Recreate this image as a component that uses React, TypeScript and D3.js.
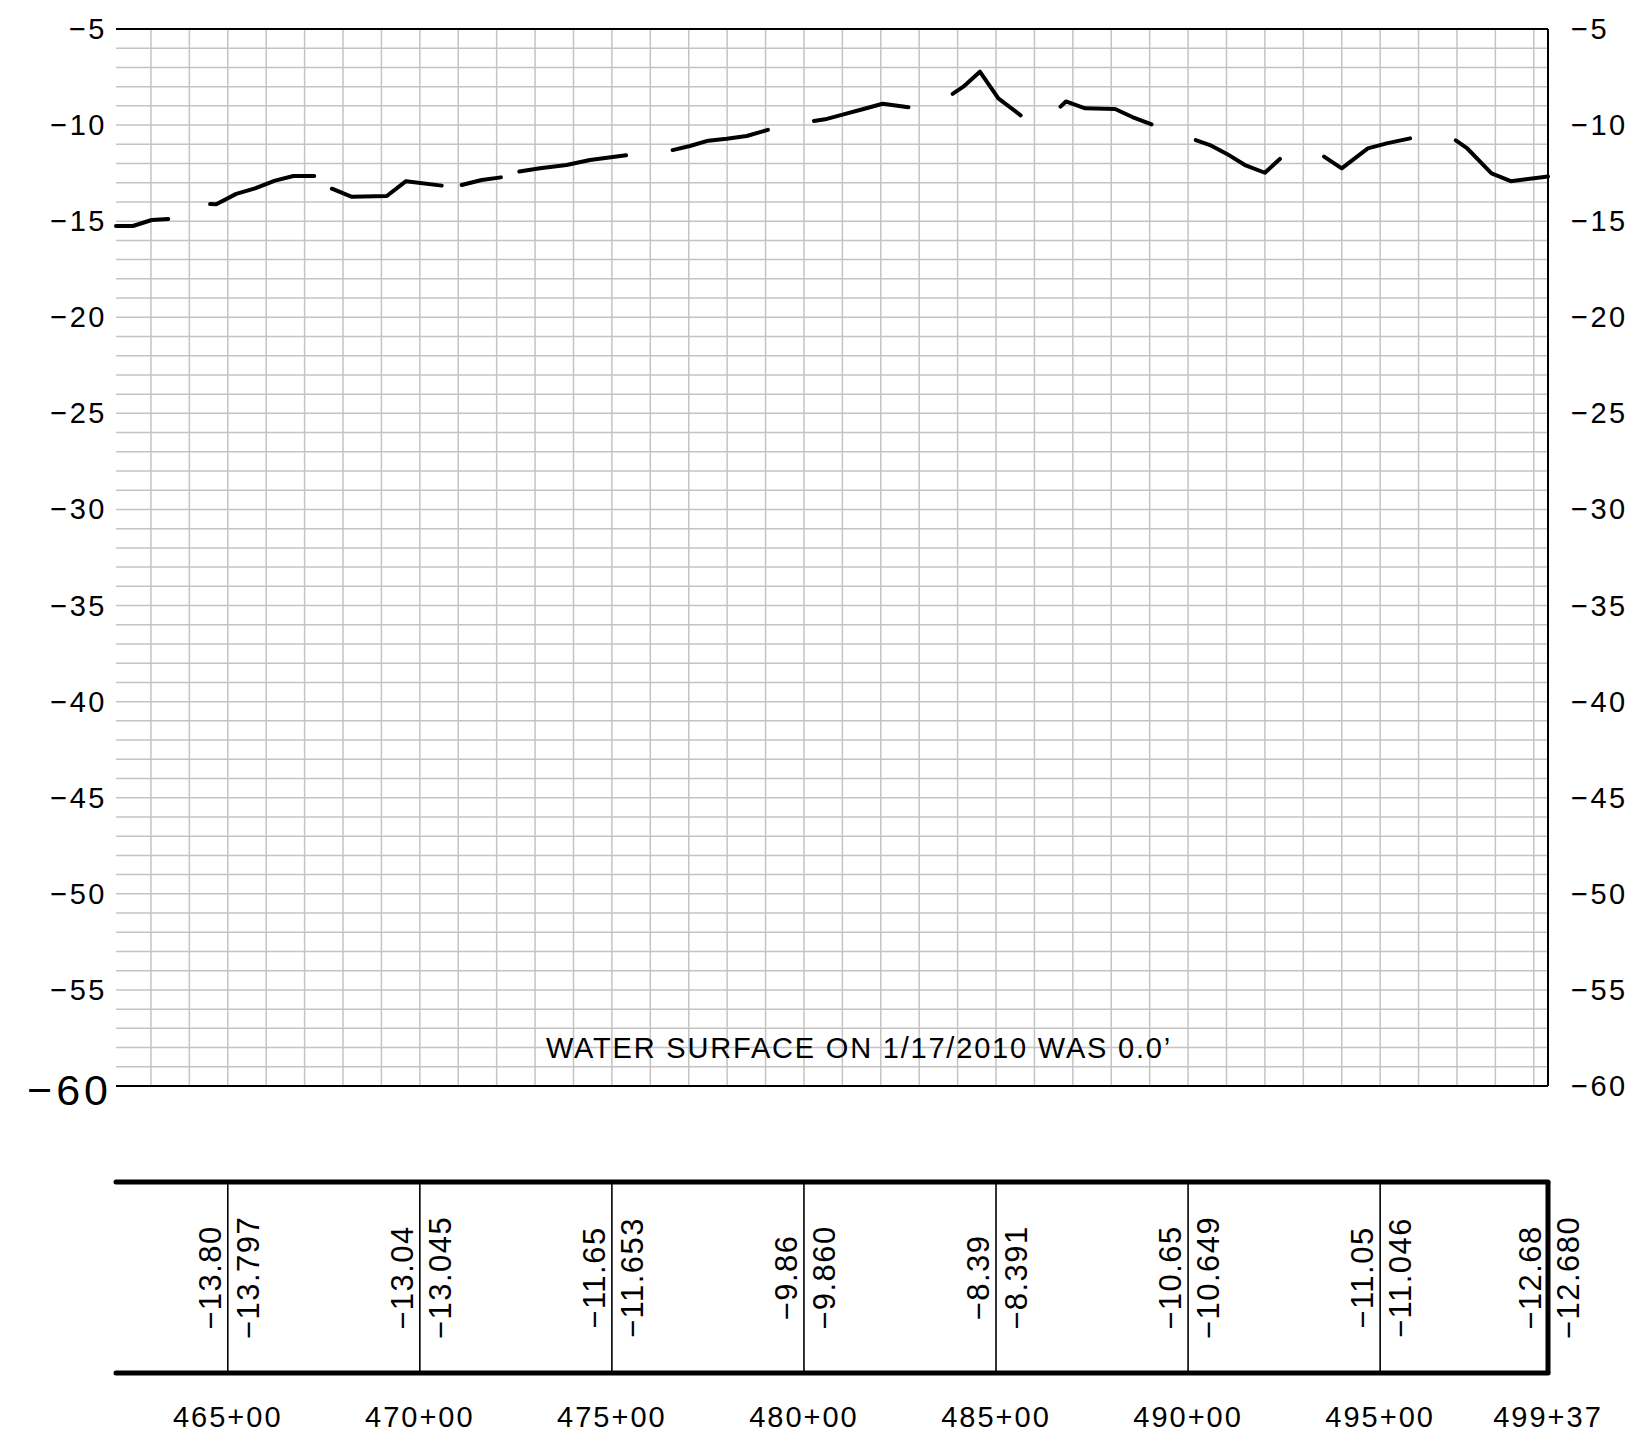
import * as d3 from "d3";

// profile line; null = pen up (gap in the line)
const profileStations = [
  46209, 46253, 46302, 46345, null,
  46454, 46470, 46522, 46571, 46623, 46671, 46725, null,
  46771, 46823, 46914, 46964, 47057, null,
  47109, 47161, 47211, null,
  47259, 47313, 47382, 47443, 47537, null,
  47658, 47703, 47751, 47799, 47851, 47906, null,
  48026, 48055, 48103, 48155, 48205, 48272, null,
  48387, 48415, 48458, 48506, 48564, null,
  48668, 48682, 48732, 48810, 48855, 48905, null,
  49020, 49057, 49101, 49148, 49200, 49239, null,
  49354, 49400, 49468, 49517, 49578, null,
  49697, 49725, 49790, 49840, 49937,
];
const profileElevations = [
  -15.25, -15.25, -14.94, -14.89, null,
  -14.11, -14.12, -13.58, -13.29, -12.89, -12.65, -12.65, null,
  -13.31, -13.73, -13.69, -12.92, -13.15, null,
  -13.12, -12.86, -12.72, null,
  -12.42, -12.25, -12.08, -11.82, -11.57, null,
  -11.3, -11.09, -10.81, -10.71, -10.57, -10.25, null,
  -9.79, -9.7, -9.44, -9.16, -8.89, -9.07, null,
  -8.38, -8.0, -7.22, -8.61, -9.49, null,
  -9.04, -8.77, -9.13, -9.16, -9.58, -9.96, null,
  -10.78, -11.04, -11.5, -12.08, -12.48, -11.76, null,
  -11.64, -12.25, -11.21, -10.95, -10.69, null,
  -10.79, -11.18, -12.51, -12.92, -12.68,
];

// band at the bottom
const bandStations = [46500, 47000, 47500, 48000, 48500, 49000, 49500, 49937];
const bandExisting = ["−13.80", "−13.04", "−11.65", "−9.86", "−8.39", "−10.65", "−11.05", "−12.68"];
const bandDesign = ["−13.797", "−13.045", "−11.653", "−9.860", "−8.391", "−10.649", "−11.046", "−12.680"];

const yTicks = [-5, -10, -15, -20, -25, -30, -35, -40, -45, -50, -55, -60];
const stationStart = 46209;
const stationEnd = 49937;
const elevTop = -5;
const elevBottom = -60;
const note = "WATER SURFACE ON 1/17/2010 WAS 0.0’";

const W = 1632;
const H = 1449;
const left = 116;
const right = 1548;
const top = 29;
const bottom = 1086;
const bandTop = 1182;
const bandBottom = 1373;
const font = "Liberation Sans, Arial, sans-serif";

const fmtStation = (s: number) => `${Math.floor(s / 100)}+${String(s % 100).padStart(2, "0")}`;

const App = () => {
  const x = d3.scaleLinear().domain([stationStart, stationEnd]).range([left, right]);
  const y = d3.scaleLinear().domain([elevTop, elevBottom]).range([top, bottom]);

  const vGrid = d3.range(46300, stationEnd, 100);
  const hGrid = d3.range(elevTop - 1, elevBottom, -1);

  const line = d3
    .line<number>()
    .defined((i) => profileElevations[i] != null)
    .x((i) => x(profileStations[i] as number))
    .y((i) => y(profileElevations[i] as number));
  const profilePath = line(d3.range(profileStations.length)) || "";

  const bandMid = (bandTop + bandBottom) / 2;

  return (
    <svg
      width={W}
      height={H}
      viewBox={`0 0 ${W} ${H}`}
      style={{ position: "absolute", left: 0, top: 0, background: "#fff" }}
      fontFamily={font}
    >
      {/* grid */}
      <g stroke="#c4c4c4" strokeWidth={1.5}>
        {hGrid.map((e) => (
          <line key={"h" + e} x1={left} x2={right} y1={y(e)} y2={y(e)} />
        ))}
        {vGrid.map((s) => (
          <line key={"v" + s} x1={x(s)} x2={x(s)} y1={top} y2={bottom} />
        ))}
      </g>

      {/* frame (no left side) */}
      <g stroke="#000" strokeWidth={2}>
        <line x1={left} x2={right} y1={y(elevTop)} y2={y(elevTop)} />
        <line x1={left} x2={right} y1={y(elevBottom)} y2={y(elevBottom)} />
        <line x1={right} x2={right} y1={top} y2={bottom} />
      </g>

      {/* y labels */}
      <g fontSize={29} fill="#000" letterSpacing={2.5}>
        {yTicks.map((t) =>
          t === elevBottom ? (
            <text key={"l" + t} x={112} y={y(t) + 19} fontSize={43} letterSpacing={4} textAnchor="end">
              {"−" + Math.abs(t)}
            </text>
          ) : (
            <text key={"l" + t} x={107} y={y(t) + 10} textAnchor="end">
              {"−" + Math.abs(t)}
            </text>
          )
        )}
        {yTicks.map((t) => (
          <text key={"r" + t} x={1571} y={y(t) + 10} textAnchor="start">
            {"−" + Math.abs(t)}
          </text>
        ))}
      </g>

      {/* profile */}
      <path
        d={profilePath}
        fill="none"
        stroke="#000"
        strokeWidth={4}
        strokeLinecap="round"
        strokeLinejoin="round"
      />

      <text x={546} y={1058} fontSize={29} letterSpacing={1.8} fill="#000">
        {note}
      </text>

      {/* band */}
      <g stroke="#000">
        <line x1={left} x2={right} y1={bandTop} y2={bandTop} strokeWidth={5} strokeLinecap="round" />
        <line x1={left} x2={right} y1={bandBottom} y2={bandBottom} strokeWidth={5} strokeLinecap="round" />
        <line x1={right} x2={right} y1={bandTop} y2={bandBottom} strokeWidth={5} />
        {bandStations.slice(0, -1).map((s) => (
          <line key={"b" + s} x1={x(s)} x2={x(s)} y1={bandTop} y2={bandBottom} strokeWidth={1.6} />
        ))}
      </g>
      <g fontSize={31} fill="#000" letterSpacing={1.5} textAnchor="middle">
        {bandStations.map((s, i) => (
          <g key={"t" + s}>
            <text transform={`translate(${x(s) - 7},${bandMid}) rotate(-90)`}>{bandExisting[i]}</text>
            <text transform={`translate(${x(s) + 31},${bandMid}) rotate(-90)`}>{bandDesign[i]}</text>
          </g>
        ))}
      </g>
      <g fontSize={29} fill="#000" letterSpacing={2} textAnchor="middle">
        {bandStations.map((s) => (
          <text key={"s" + s} x={x(s)} y={1427}>
            {fmtStation(s)}
          </text>
        ))}
      </g>
    </svg>
  );
};

export default App;
